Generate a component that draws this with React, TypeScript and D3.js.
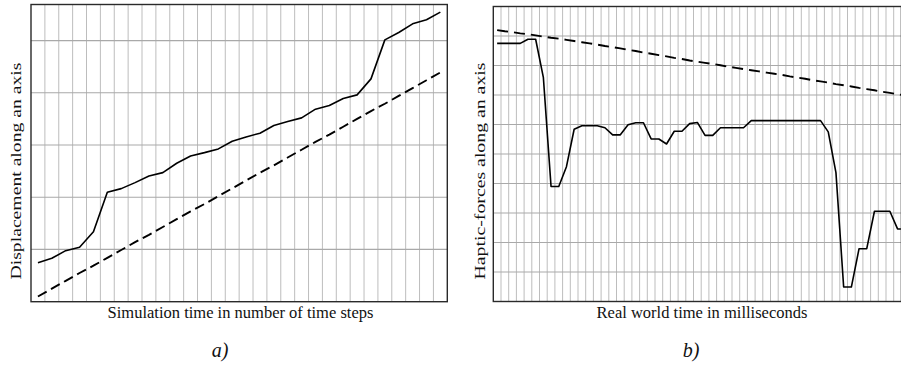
import * as d3 from "d3";
import React from "react";

// panel a) displacement, one value per simulation step
const simulatedA = [
  7.47, 8.31, 9.77, 10.42, 13.41, 20.96, 21.65, 22.8, 24.08, 24.71,
  26.51, 27.91, 28.54, 29.25, 30.73, 31.55, 32.26, 33.72, 34.48, 35.19,
  36.86, 37.55, 38.89, 39.6, 42.66, 50.13, 51.53, 53.2, 53.97, 55.44,
];
const referenceA = [
  1.0, 2.5, 4.0, 5.5, 6.9, 8.4, 9.9, 11.4, 12.8, 14.3,
  15.8, 17.3, 18.7, 20.2, 21.7, 23.2, 24.7, 26.1, 27.6, 29.1,
  30.6, 32.0, 33.5, 35.0, 36.5, 37.9, 39.4, 40.9, 42.4, 43.9,
];
const gridA = [10, 20, 30, 40, 50];

// panel b) haptic forces, one value per millisecond sample
const forceB = [
  8.75, 8.75, 8.75, 8.75, 8.89, 8.89, 7.6, 3.9, 3.9, 4.57,
  5.84, 5.96, 5.96, 5.96, 5.89, 5.65, 5.65, 5.99, 6.06, 6.06,
  5.51, 5.51, 5.34, 5.77, 5.77, 6.03, 6.07, 5.63, 5.63, 5.89,
  5.89, 5.89, 5.89, 6.13, 6.13, 6.13, 6.13, 6.13, 6.13, 6.13,
  6.13, 6.13, 6.13, 5.75, 4.37, 0.49, 0.49, 1.79, 1.79, 3.06,
  3.06, 3.06, 2.46, 2.46,
];
const limitB = [
  9.2, 9.16, 9.13, 9.09, 9.06, 9.02, 8.98, 8.94, 8.91, 8.87,
  8.83, 8.79, 8.75, 8.71, 8.66, 8.62, 8.58, 8.53, 8.49, 8.44,
  8.4, 8.35, 8.31, 8.26, 8.22, 8.17, 8.13, 8.09, 8.05, 8.01,
  7.96, 7.92, 7.88, 7.84, 7.8, 7.76, 7.72, 7.68, 7.63, 7.59,
  7.55, 7.5, 7.46, 7.42, 7.37, 7.33, 7.29, 7.24, 7.2, 7.16,
  7.11, 7.07, 7.03, 6.98,
];
const gridB = [1, 2, 3, 4, 5, 6, 7, 8, 9];

const FONT = "'Liberation Serif', 'Times New Roman', serif";

function Panel(props) {
  const { x0, x1, y0, y1, steps, yMax, grid, series, xLabel, yLabel, tag, labelX, tagX } = props;
  const x = d3.scaleLinear().domain([0, steps]).range([x0, x1]);
  const y = d3.scaleLinear().domain([0, yMax]).range([y1, y0]);
  const line = d3
    .line()
    .x((d, i) => x(i + 0.5))
    .y((d) => y(d));
  const cols = d3.range(1, steps);

  return (
    <g>
      {cols.map((c) => (
        <line key={"v" + c} x1={x(c)} x2={x(c)} y1={y0} y2={y1} stroke="#bdbdbd" strokeWidth={1} />
      ))}
      {grid.map((g) => (
        <line key={"h" + g} x1={x0} x2={x1} y1={y(g)} y2={y(g)} stroke="#a9a9a9" strokeWidth={1.2} />
      ))}
      {series.map((s, k) => (
        <path
          key={"s" + k}
          d={line(s.values)}
          fill="none"
          stroke="#000"
          strokeWidth={s.dash ? 1.9 : 1.6}
          strokeDasharray={s.dash || null}
          strokeLinejoin="round"
        />
      ))}
      <rect x={x0} y={y0} width={x1 - x0} height={y1 - y0} fill="none" stroke="#2a2a2a" strokeWidth={1.4} />
      <text x={labelX} y={318} textAnchor="middle" fontFamily={FONT} fontSize={16.5} fill="#111">
        {xLabel}
      </text>
      <text
        transform={`translate(${yLabel.x},171) rotate(-90)`}
        textAnchor="middle"
        fontFamily={FONT}
        fontSize={15.5}
        textLength={217}
        lengthAdjust="spacingAndGlyphs"
        fill="#111"
      >
        {yLabel.text}
      </text>
      <text x={tagX} y={357} textAnchor="middle" fontFamily={FONT} fontStyle="italic" fontSize={20} fill="#111">
        {tag}
      </text>
    </g>
  );
}

export default function App() {
  return (
    <svg width={901} height={368} style={{ position: "absolute", left: 0, top: 0, background: "#fff" }}>
      <Panel
        x0={31}
        x1={447.3}
        y0={4.5}
        y1={301.7}
        steps={30}
        yMax={56.9}
        grid={gridA}
        series={[
          { values: simulatedA },
          { values: referenceA, dash: "10,5" },
        ]}
        xLabel="Simulation time in number of time steps"
        yLabel={{ x: 20.7, text: "Displacement along an axis" }}
        labelX={240.5}
        tag="a)"
        tagX={220}
      />
      <Panel
        x0={493.3}
        x1={901.4}
        y0={6.5}
        y1={301.5}
        steps={53}
        yMax={10}
        grid={gridB}
        series={[
          { values: forceB },
          { values: limitB, dash: "11,6" },
        ]}
        xLabel="Real world time in milliseconds"
        yLabel={{ x: 485.3, text: "Haptic-forces along an axis" }}
        labelX={702}
        tag="b)"
        tagX={691}
      />
    </svg>
  );
}
